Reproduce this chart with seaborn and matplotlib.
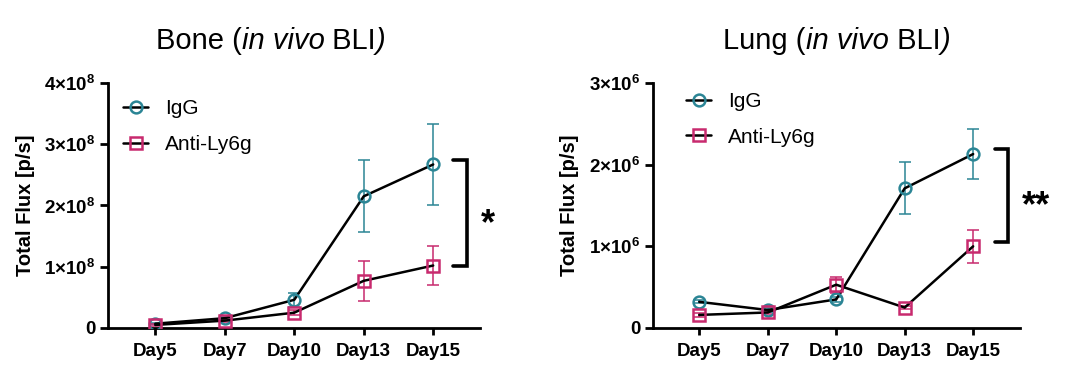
import numpy as np
import pandas as pd
import matplotlib
matplotlib.use('Agg')
import matplotlib.pyplot as plt
from matplotlib.lines import Line2D
from matplotlib.ticker import FuncFormatter
from matplotlib.transforms import offset_copy
import seaborn as sns

# data (mean +/- SEM)
days = ['Day5', 'Day7', 'Day10', 'Day13', 'Day15']

bone_igg = [0.07e8, 0.16e8, 0.46e8, 2.15e8, 2.67e8]
bone_igg_err = [0.01e8, 0.02e8, 0.11e8, 0.59e8, 0.66e8]
bone_ly6g = [0.05e8, 0.12e8, 0.25e8, 0.77e8, 1.02e8]
bone_ly6g_err = [0.01e8, 0.02e8, 0.04e8, 0.33e8, 0.32e8]

lung_igg = [0.32e6, 0.22e6, 0.35e6, 1.71e6, 2.13e6]
lung_igg_err = [0.02e6, 0.02e6, 0.03e6, 0.32e6, 0.31e6]
lung_ly6g = [0.16e6, 0.19e6, 0.53e6, 0.25e6, 1.00e6]
lung_ly6g_err = [0.02e6, 0.02e6, 0.10e6, 0.02e6, 0.20e6]

series_names = ['IgG', 'Anti-Ly6g']
colors = {'IgG': '#2b8595', 'Anti-Ly6g': '#c82a6e'}
markers = {'IgG': 'o', 'Anti-Ly6g': 's'}

sns.set_theme(style='ticks', rc={'text.color': 'black', 'axes.labelcolor': 'black',
                                 'xtick.color': 'black', 'ytick.color': 'black',
                                 'axes.edgecolor': 'black'})
plt.rcParams['font.family'] = ['Liberation Sans', 'DejaVu Sans']
plt.rcParams['mathtext.fontset'] = 'custom'
plt.rcParams['mathtext.rm'] = 'Liberation Sans'
plt.rcParams['mathtext.it'] = 'Liberation Sans:italic'
plt.rcParams['mathtext.bf'] = 'Liberation Sans:bold'


def sci_label(exp):
    def fmt(v, pos):
        if v == 0:
            return '0'
        return r'%d×10$^{\mathbf{%d}}$' % (round(v / 10 ** exp), exp)
    return FuncFormatter(fmt)


def draw_panel(fig, ax, igg, igg_err, ly6g, ly6g_err, ymax, nticks, exp, bracket, stars):
    x = np.arange(len(days))
    data = {'IgG': (igg, igg_err), 'Anti-Ly6g': (ly6g, ly6g_err)}
    for name in series_names:
        mean, err = data[name]
        ax.errorbar(x, mean, yerr=err, fmt='none', ecolor=colors[name],
                    elinewidth=1.1, capsize=4, capthick=1.1, zorder=2)
        df = pd.DataFrame({'x': x, 'y': mean})
        sns.lineplot(data=df, x='x', y='y', ax=ax, color='black', lw=1.8,
                     marker=markers[name], markersize=8.5,
                     markerfacecolor='none', markeredgecolor=colors[name],
                     markeredgewidth=1.8, errorbar=None, zorder=3)

    ax.set_xlim(-0.68, 4.68)
    ax.set_ylim(0, ymax)
    ax.set_yticks(np.linspace(0, ymax, nticks))
    ax.yaxis.set_major_formatter(sci_label(exp))
    ax.set_xticks(x)
    ax.set_xticklabels(days)
    ax.set_xlabel('')
    ax.set_ylabel('Total Flux [p/s]', fontsize=14.5, fontweight='bold', labelpad=7)
    for lab in ax.get_xticklabels() + ax.get_yticklabels():
        lab.set_fontweight('bold')
    ax.tick_params(axis='x', labelsize=13.5, width=2, length=5, pad=6)
    ax.tick_params(axis='y', labelsize=13.5, width=2, length=6, pad=3)
    sns.despine(ax=ax)
    for s in ['left', 'bottom']:
        ax.spines[s].set_linewidth(2)

    # significance bracket
    x0, x1, ylo, yhi = bracket
    ax.plot([x0, x1, x1, x0], [yhi, yhi, ylo, ylo], color='black', lw=2.6,
            clip_on=False, solid_joinstyle='miter')
    star_trans = offset_copy(ax.transData, fig=fig, x=0, y=-8, units='points')
    ax.text(x1 + 0.2, (ylo + yhi) / 2, stars, fontsize=26, fontweight='bold',
            ha='left', va='center', transform=star_trans)

    handles = [Line2D([], [], color='black', lw=1.8, marker=markers[n],
                      markersize=8.5, markerfacecolor='none',
                      markeredgecolor=colors[n], markeredgewidth=1.8)
               for n in series_names]
    return handles


def mixed_title(fig, xc, y, parts, size=21):
    # draw title segments one after another, then centre the whole line
    renderer = fig.canvas.get_renderer()
    texts = []
    for s, style in parts:
        t = fig.text(0, y, s, fontsize=size, style=style, va='center', ha='left')
        bb = t.get_window_extent(renderer)
        texts.append((t, bb.width))
    total = sum(w for _, w in texts)
    start = xc * fig.bbox.width - total / 2
    for t, w in texts:
        t.set_x(start / fig.bbox.width)
        start += w


fig = plt.figure(figsize=(10.7, 3.87), dpi=100)
ax1 = fig.add_axes([0.101, 0.1525, 0.348, 0.633])
ax2 = fig.add_axes([0.610, 0.1525, 0.343, 0.633])

h = draw_panel(fig, ax1, bone_igg, bone_igg_err, bone_ly6g, bone_ly6g_err,
               4e8, 5, 8, (4.29, 4.49, 1.01e8, 2.74e8), '*')
ax1.legend(h, series_names, loc='upper left', bbox_to_anchor=(-0.01, 1.01),
           frameon=False, fontsize=15, handlelength=1.2, handletextpad=0.8,
           labelspacing=0.8)

h = draw_panel(fig, ax2, lung_igg, lung_igg_err, lung_ly6g, lung_ly6g_err,
               3e6, 4, 6, (4.32, 4.51, 1.05e6, 2.19e6), '**')
ax2.legend(h, series_names, loc='upper left', bbox_to_anchor=(0.04, 1.04),
           frameon=False, fontsize=15, handlelength=1.2, handletextpad=0.8,
           labelspacing=0.8)

mixed_title(fig, 0.253, 0.895, [('Bone (', 'normal'), ('in vivo', 'italic'),
                                (' BLI', 'normal'), (')', 'italic')])
mixed_title(fig, 0.782, 0.895, [('Lung (', 'normal'), ('in vivo', 'italic'),
                                (' BLI', 'normal'), (')', 'italic')])

fig.savefig('out.png', dpi=100)
